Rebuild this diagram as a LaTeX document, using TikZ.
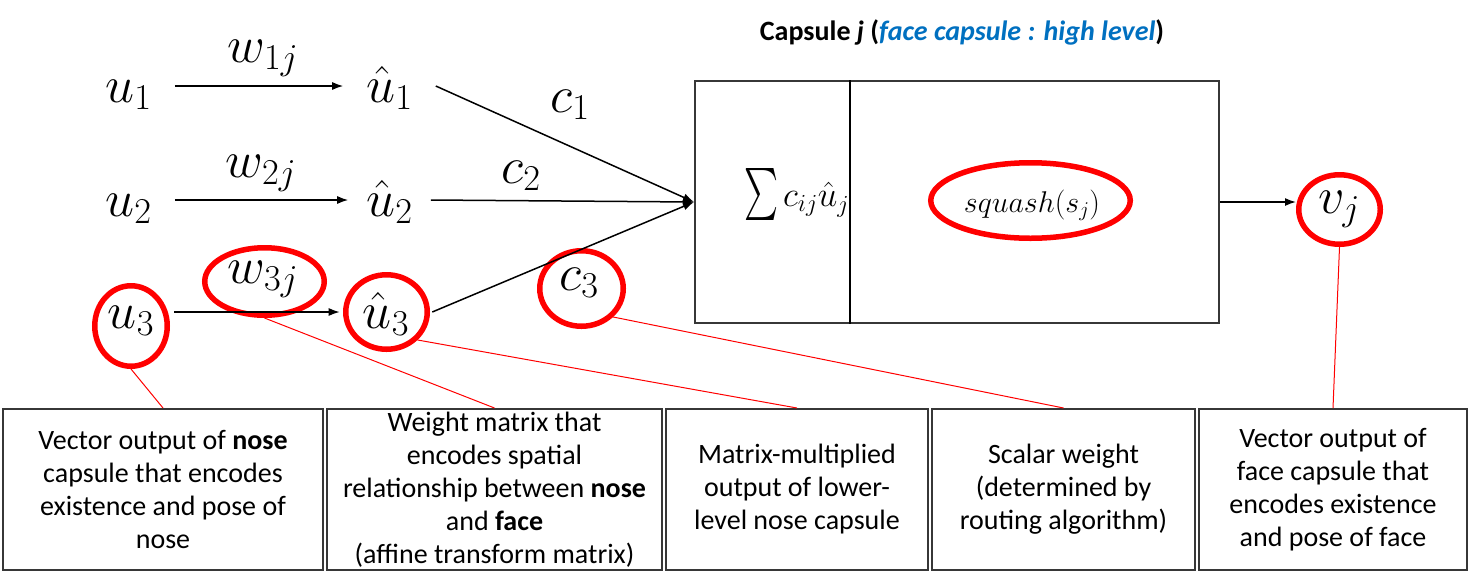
\RequirePackage{fix-cm}
\documentclass[tikz,border=0pt]{standalone}
\usepackage{exscale}
\usepackage{fontspec}
\usepackage{graphicx}
\usetikzlibrary{arrows.meta,shapes.geometric}
\newfontfamily\boxfont{Carlito}
\definecolor{capblue}{RGB}{0,112,192}
\definecolor{boxgray}{RGB}{55,55,55}
\tikzset{
  mathlbl/.style={font=\fontsize{52}{60}\selectfont, inner sep=0pt},
  var/.style={font=\fontsize{52}{60}\selectfont, inner xsep=23pt, inner ysep=0pt, text height=40pt, text depth=8pt},
  ring/.style={ellipse, draw=red, line width=5.5pt, inner sep=0pt},
  flow/.style={draw=black, line width=1.5pt, -{Latex[length=11pt,width=8pt]}},
  callout/.style={draw=red, line width=1pt},
  descbox/.style={draw=boxgray, line width=2pt, minimum height=161pt, inner sep=0pt, align=center, font=\boxfont\fontsize{28}{33}\selectfont},
  capbox/.style={draw=boxgray, line width=2pt, minimum width=524pt, minimum height=242pt, inner sep=0pt},
}
\begin{document}
\begin{tikzpicture}[x=1pt,y=-1pt]
\useasboundingbox[fill=white] (0,0) rectangle (1471,574);

% title
\node[anchor=base, inner sep=0pt, font=\boxfont\bfseries\fontsize{28}{33}\selectfont] (title) at (962,40)
  {Capsule \textit{j} (\textcolor{capblue}{\textit{face capsule : high level}})};

% capsule box
\node[capbox] (cap) at (957,202) {};
\draw[line width=1.5pt] ([xshift=156pt]cap.north west) -- ([xshift=156pt]cap.south west);
\begin{scope}
  \clip (697,83) rectangle (850,321);
  \node[anchor=base west, inner sep=0pt, font=\fontsize{35}{40}\selectfont] (sumtxt) at (744,206)
    {\raisebox{-7pt}{\resizebox*{34pt}{52pt}{$\sum$}}\hspace{5pt}$c_{ij}\hat{u}_{j|i}$};
\end{scope}

% red rings
\node[ring, minimum width=72.5pt, minimum height=80.5pt] (u3c) at (131,326) {};
\node[ring, minimum width=119.5pt, minimum height=67.5pt] (w3c) at (264.5,281.5) {};
\node[ring, minimum width=81.5pt, minimum height=74.5pt] (uh3c) at (386.5,312) {};
\node[ring, minimum width=83.5pt, minimum height=75.5pt] (c3c) at (581.5,288.5) {};
\node[ring, minimum width=81.5pt, minimum height=69.5pt] (vjc) at (1339.5,209.5) {};
\node[ring, minimum width=199.5pt, minimum height=75.5pt] (sqc) at (1030.5,200.5) {};

% variables
\node[var] (u1) at (128.5,86) {$u_1$};
\node[var] (uh1) at (389.5,86) {$\hat{u}_1$};
\node[var] (u2) at (128.5,200) {$u_2$};
\node[var, inner xsep=18pt] (uh2) at (389.5,200) {$\hat{u}_2$};
\node[var, inner xsep=20pt] (u3) at (131,312) {$u_3$};
\node[var] (uh3) at (386,312) {$\hat{u}_3$};

\node[mathlbl, anchor=base] (w1) at (263,62) {$w_{1j}$};
\node[mathlbl, anchor=base] (w2) at (261,177) {$w_{2j}$};
\node[mathlbl, anchor=base] (w3) at (263,283) {$w_{3j}$};
\node[mathlbl, anchor=base] (c1) at (570,112) {$c_1$};
\node[mathlbl, anchor=base] (c2) at (521,183) {$c_2$};
\node[mathlbl, anchor=base] (c3) at (579,290) {$c_3$};
\node[mathlbl, anchor=base] (vj) at (1339,213) {$v_j$};
\node[anchor=base, inner sep=0pt, font=\fontsize{30}{36}\selectfont] (sq) at (1032,212) {$squash(s_j)$};

% flow arrows
\draw[flow] (u1) -- (uh1);
\draw[flow] (u2) -- (uh2);
\draw[flow] (u3) -- (uh3);
\draw[flow] (uh1.east) -- (cap.west);
\draw[flow] (uh2.east) -- (cap.west);
\draw[flow] (uh3.east) -- (cap.west);
\draw[flow] (cap.east) -- (cap.east -| vjc.west);

% description boxes
\node[descbox, minimum width=320pt] (b1) at (163,489.5)
  {Vector output of \textbf{nose}\\capsule that encodes\\existence and pose of\\nose};
\node[descbox, minimum width=335pt] (b2) at (494.5,489.5)
  {Weight matrix that\\encodes spatial\\relationship between \textbf{nose}\\and \textbf{face}\\(affine transform matrix)};
\node[descbox, minimum width=262pt] (b3) at (797,489.5)
  {Matrix-multiplied\\output of lower-\\level nose capsule};
\node[descbox, minimum width=263pt] (b4) at (1063.5,489.5)
  {Scalar weight\\(determined by\\routing algorithm)};
\node[descbox, minimum width=268pt] (b5) at (1333,489.5)
  {Vector output of\\face capsule that\\encodes existence\\and pose of face};

% callouts
\draw[callout] (u3c.south) -- (b1.north);
\draw[callout] (w3c.south) -- (b2.north);
\draw[callout] (uh3c.-42) -- (b3.north);
\draw[callout] (c3c.-42) -- (b4.north);
\draw[callout] (vjc.south) -- (b5.north);
\end{tikzpicture}
\end{document}
